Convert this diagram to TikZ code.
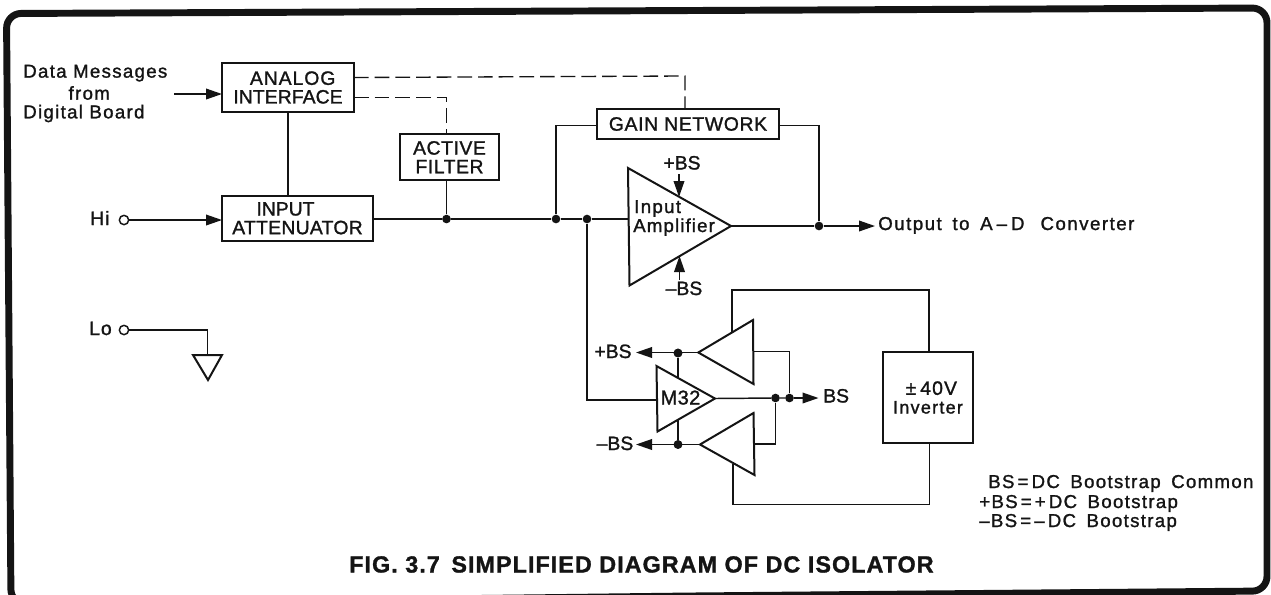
\documentclass[tikz,border=0pt]{standalone}
\usepackage{fontspec}
\setmainfont{Liberation Sans}
\usetikzlibrary{arrows.meta}
\definecolor{ink}{HTML}{141414}
\newcommand{\fs}[2]{\fontsize{#1}{15}\selectfont\addfontfeatures{LetterSpace=#2,FakeBold=1.3}}
\tikzset{
  frameline/.style={draw=ink,line width=5.2pt,rounded corners=11pt},
  wire/.style={draw=ink,line width=1.1pt},
  dashwire/.style={draw=ink,line width=1pt,dash pattern=on 11pt off 4.5pt},
  sig/.style={wire,-{Triangle[length=12pt,width=8pt]}},
  tri/.style={draw=ink,line width=1.5pt,line join=miter,fill=white},
  blockbox/.style={draw=ink,line width=1.5pt,inner sep=0pt,align=center,text=ink},
  dot/.style={circle,fill=ink,inner sep=0pt,minimum size=6.5pt},
  port/.style={circle,draw=ink,line width=1.1pt,fill=white,inner sep=0pt,minimum size=7pt},
  lab/.style={inner sep=0pt,text=ink}
}
\begin{document}
\begin{tikzpicture}[x=0.75pt,y=-0.75pt]
\useasboundingbox (0,0) rectangle (1271,594);
\fill[white] (0,0) rectangle (1271,594);
% outer frame
\draw[frameline] (11,604) -- (6.5,13.5) -- (1267,8) -- (1267,591) -- (690,596) -- cycle;

% blocks
\node[blockbox,minimum width={132*0.75pt},minimum height={49*0.75pt}] (ai) at (288,87.5) {\fs{14.5}{5}\hspace{7pt}ANALOG\\[2pt]\fs{14.5}{0.5}INTERFACE};
\node[blockbox,minimum width={151*0.75pt},minimum height={44.5*0.75pt}] (att) at (297.5,218.3) {\fs{14.5}{0}\hspace{-18pt}INPUT\\[2pt]\fs{14.5}{1.5}ATTENUATOR};
\node[blockbox,minimum width={99*0.75pt},minimum height={46.5*0.75pt}] (af) at (449.5,157.2) {\fs{14.5}{3}ACTIVE\\[2pt]\fs{14.5}{3}FILTER};
\node[blockbox,minimum width={182*0.75pt},minimum height={30*0.75pt}] (gn) at (688,124) {\fs{14.5}{3.5}GAIN NETWORK};
\node[blockbox,minimum width={90*0.75pt},minimum height={91*0.75pt}] (inv) at (928,397.5) {\fs{14.5}{6}\hspace{5pt}±\hspace{3pt}40V\\[2pt]\fs{13.5}{7}Inverter};

% triangle vertices
\coordinate (amp1) at (628,168); \coordinate (amp2) at (629.5,285.5); \coordinate (amp3) at (731,226);
\coordinate (m1) at (656.5,366); \coordinate (m2) at (657.5,431.5); \coordinate (m3) at (715,398.5);
\coordinate (ta1) at (753,320); \coordinate (ta2) at (753.5,384); \coordinate (ta3) at (698.3,352.5);
\coordinate (tb1) at (753.5,413); \coordinate (tb2) at (754.5,475); \coordinate (tb3) at (700,444.5);
\coordinate (g1) at (193,355); \coordinate (g2) at (222,355); \coordinate (g3) at (208,380);

% ports and junctions
\node[port] (hi) at (124,220) {};
\node[port] (lo) at (124,330) {};
\node[dot] (j1) at (446.5,219) {};
\node[dot] (j2) at (556,219) {};
\node[dot] (j3) at (587,219) {};
\node[dot] (j4) at (819,226) {};
\node[dot] (j5) at (678,353) {};
\node[dot] (j6) at (678,444.5) {};
\node[dot] (j7) at (775.5,398) {};
\node[dot] (j8) at (789.5,398) {};

% helper ends
\coordinate (dataIn) at (174,94); \coordinate (aiIn) at (222,94);
\coordinate (attIn) at (222,220); \coordinate (attOut) at (373,219);
\coordinate (d1a) at (354,77.5); \coordinate (d1b) at (685,76); \coordinate (d1c) at (685,109);
\coordinate (d2a) at (354,97.5); \coordinate (d2b) at (446.5,97.5); \coordinate (d2c) at (446.5,134);
\coordinate (gl) at (597,125.5); \coordinate (gla) at (556,125.5);
\coordinate (gr) at (779,125.5); \coordinate (gra) at (819,125.5);
\coordinate (ampIn) at (628,219);
\coordinate (outEnd) at (875,226);
\coordinate (mIn) at (656.5,400); \coordinate (mc) at (587,400);
\coordinate (pTop) at (679,174); \coordinate (pTip) at (679,197);
\coordinate (nBot) at (679.5,280); \coordinate (nTip) at (679.5,256);
\coordinate (plusTip) at (636,352.5); \coordinate (minusTip) at (636,444.5);
\coordinate (bsTip) at (818.5,398);
\coordinate (taOut) at (753.5,351.5); \coordinate (tbOut) at (754.5,444);
\coordinate (taSup) at (732,331.5); \coordinate (taC1) at (732,290); \coordinate (taC2) at (929,290); \coordinate (invT) at (929,352);
\coordinate (tbSup) at (733,464); \coordinate (tbC1) at (733,504.5); \coordinate (tbC2) at (929.5,504.5); \coordinate (invB) at (929.5,443);
\coordinate (m5top) at (678,378.5); \coordinate (m6bot) at (678,419.5);
\coordinate (loC) at (207.5,330); \coordinate (gndT) at (207.5,355);

% connectors
\draw[sig] (dataIn) -- (aiIn);
\draw[wire] (ai.south) -- (att.north -| ai.south);
\draw[sig] (hi) -- (attIn);
\draw[wire] (attOut) -- (j1) -- (j2) -- (j3) -- (ampIn);
\draw[wire] (af.south -| j1) -- (j1);
\draw[dashwire] (d1a) -- (d1b) -- (d1c);
\draw[dashwire] (d2a) -- (d2b) -- (d2c);
\draw[wire] (gl) -- (gla) -- (j2);
\draw[wire] (gr) -- (gra) -- (j4);
\draw[wire] (amp3) -- (j4);
\draw[sig] (j4) -- (outEnd);
\draw[wire] (j3) -- (mc) -- (mIn);
\draw[sig] (pTop) -- (pTip);
\draw[sig] (nBot) -- (nTip);
\draw[sig] (ta3) -- (plusTip);
\draw[sig] (tb3) -- (minusTip);
\draw[wire] (j5) -- (m5top);
\draw[wire] (m6bot) -- (j6);
\draw[wire] (m3) -- (j7) -- (j8);
\draw[sig] (j8) -- (bsTip);
\draw[wire] (taOut) -| (j8);
\draw[wire] (tbOut) -| (j7);
\draw[wire] (taSup) -- (taC1) -- (taC2) -- (invT);
\draw[wire] (tbSup) -- (tbC1) -- (tbC2) -- (invB);
\draw[wire] (lo) -- (loC) -- (gndT);

% triangles
\draw[tri] (amp1) -- (amp2) -- (amp3) -- cycle;
\draw[tri] (m1) -- (m2) -- (m3) -- cycle;
\draw[tri] (ta1) -- (ta2) -- (ta3) -- cycle;
\draw[tri] (tb1) -- (tb2) -- (tb3) -- cycle;
\draw[tri] (g1) -- (g2) -- (g3) -- cycle;

% redraw junctions touching triangles
\node[dot] at (j5) {}; \node[dot] at (j6) {};

% labels
\node[lab,anchor=west,align=left] (datalbl) at (23,93.5) {\fs{14}{7}Data Messages\\[2.5pt]\fs{14}{7}\hspace{34pt}from\\[2pt]\fs{14}{7}Digital Board};
\node[lab,anchor=base west] (hilbl) at (90,225) {\fs{14.5}{5}Hi};
\node[lab,anchor=base west] (lolbl) at (89,335) {\fs{14.5}{5}Lo};
\node[lab,anchor=base west] (inlbl) at (634,213) {\fs{14}{7}Input};
\node[lab,anchor=base west] (amplbl) at (633,232) {\fs{14}{6}Amplifier};
\node[lab,anchor=base] (pbs) at (682,169.5) {\fs{14.5}{0}+BS};
\node[lab,anchor=base] (nbs) at (684,295) {\fs{14.5}{0}–BS};
\node[lab,anchor=base west] (outlbl) at (878,230) {\fs{14}{8}Output\hspace{3pt} to\hspace{3pt} A\hspace{3pt}–\hspace{3pt}D\hspace{7pt} Converter};
\node[lab,anchor=base] (pbs2) at (613,358) {\fs{14.5}{0}+BS};
\node[lab,anchor=base] (nbs2) at (615,450) {\fs{14.5}{0}–BS};
\node[lab,anchor=base] (m32) at (680.5,404.5) {\fs{15}{2}M32};
\node[lab,anchor=base west] (bs) at (823,402.5) {\fs{14.5}{0}BS};
\node[lab,anchor=base west] (leg1) at (988,488) {\fs{14}{7}BS\,=\,DC\hspace{3pt} Bootstrap\hspace{3pt} Common};
\node[lab,anchor=base west] (leg2) at (979,508) {\fs{14}{7}+BS\,=\,+\,DC\hspace{3pt} Bootstrap};
\node[lab,anchor=base west] (leg3) at (979,527) {\fs{14}{7}–BS\,=\,–\,DC\hspace{3pt} Bootstrap};
\node[lab,anchor=base west] (title) at (349,572.5) {\fs{17.5}{4.5}\bfseries FIG. 3.7\hspace{3pt} SIMPLIFIED DIAGRAM OF DC ISOLATOR};
\end{tikzpicture}
\end{document}
